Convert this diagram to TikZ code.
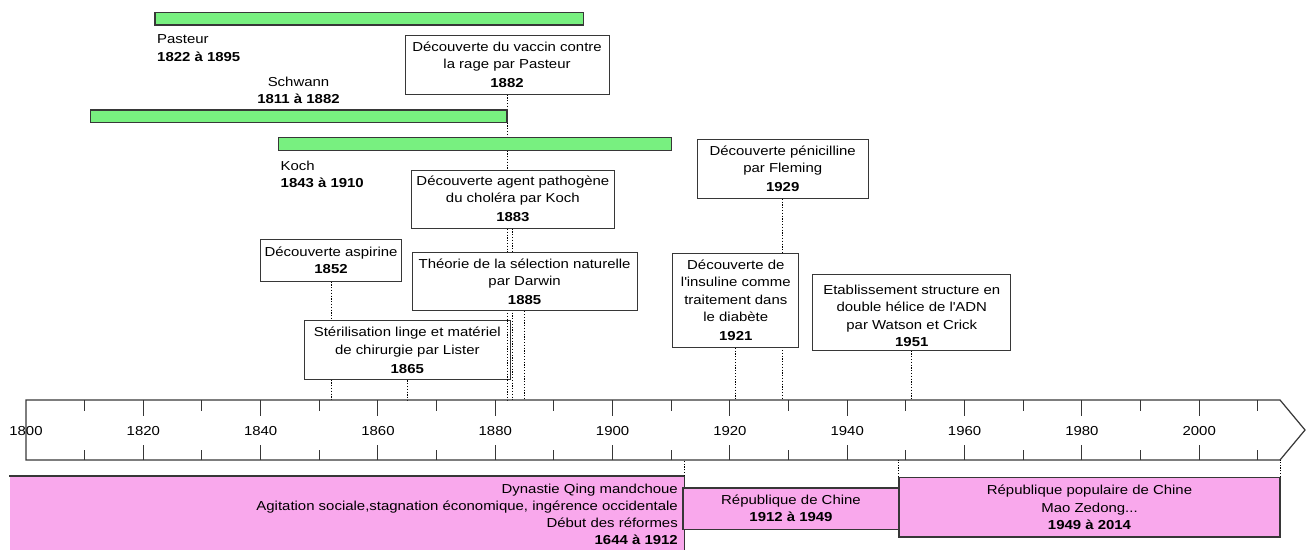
\documentclass[tikz,border=0pt]{standalone}
\usepackage{fontspec}
\setmainfont{Liberation Sans}[FakeStretch=1.15]
\usepackage{xcolor}
\usetikzlibrary{math}
\usetikzlibrary{backgrounds}
\definecolor{vertbarre}{RGB}{120,240,128}
\definecolor{rosebloc}{RGB}{249,168,236}
\definecolor{bordure}{RGB}{55,55,55}
\newcommand{\annee}[1]{(\orig+(#1-1800)*\ech)}
\tikzset{
 barre/.style={draw=bordure, fill=vertbarre, line width=1.3pt},
 evenement/.style={draw=bordure, fill=white, line width=1pt, align=center, inner sep=0pt},
 periode/.style={draw=bordure, fill=rosebloc, line width=1.3pt, align=center, inner sep=0pt},
 pointille/.style={line width=1pt, dash pattern=on 1.2pt off 1.6pt},
 graduation/.style={line width=1pt, draw=bordure}
}

\begin{document}
\begin{tikzpicture}[x={(1pt,0)}, y={(0,-1pt)}, font=\fontsize{13}{17.3}\selectfont]
\tikzmath{
\orig=26;
\ech=5.866;
}
\useasboundingbox (0,0) rectangle (1311,549);
\clip (0,0) rectangle (1311,549);

 \coordinate (axehaut) at (0,400);
 \coordinate (axebas) at (0,460);

 %axe du temps:
 \draw[line width=1.2pt, draw=bordure] (\orig,400) -- (1280,400) -- (1305,430) -- (1280,460) -- (\orig,460) -- cycle;
 \foreach \a in {1810,1830,...,2010}{
  \draw[graduation] ({\annee{\a}},400) -- ++(0,11);
  \draw[graduation] ({\annee{\a}},460) -- ++(0,-10);
 }
 \foreach \a in {1820,1840,...,2000}{
  \draw[graduation] ({\annee{\a}},400) -- ++(0,16);
  \draw[graduation] ({\annee{\a}},460) -- ++(0,-15);
 }
 \foreach \a in {1800,1820,...,2000}
  \node at ({\annee{\a}},431) {\a};

 %barres de vie:
 \draw[barre] ({\annee{1822}},12.5) rectangle ({\annee{1895}},25);
 \node[anchor=north west, align=left, inner sep=0pt] (pasteur) at (157,34.7) {Pasteur\\\textbf{1822 à 1895}};
 \draw[barre] ({\annee{1811}},110) rectangle ({\annee{1882}},122.7);
 \node[anchor=north, align=center, inner sep=0pt] (schwann) at (298.5,76.7) {Schwann\\\textbf{1811 à 1882}};
 \draw[barre] ({\annee{1843}},137.3) rectangle ({\annee{1910}},150.7);
 \node[anchor=north west, align=left, inner sep=0pt] (koch) at (280.5,160.7) {Koch\\\textbf{1843 à 1910}};

 %evenements:
 \node[evenement, minimum width=204, minimum height=59] (vaccin) at ({\annee{1882}},64.5) {Découverte du vaccin contre\\la rage par Pasteur\\[1.5pt]\textbf{1882}};
 \node[evenement, minimum width=203, minimum height=58] (cholera) at ({\annee{1883}},199) {Découverte agent pathogène\\du choléra par Koch\\[1.5pt]\textbf{1883}};
 \node[evenement, minimum width=141, minimum height=42] (aspirine) at ({\annee{1852}},260) {Découverte aspirine\\\textbf{1852}};
 \node[evenement, minimum width=225, minimum height=58] (darwin) at ({\annee{1885}},281.7) {Théorie de la sélection naturelle\\par Darwin\\[1.5pt]\textbf{1885}};
 \node[evenement, minimum width=206, minimum height=59] (lister) at ({\annee{1865}},350.3) {Stérilisation linge et matériel\\de chirurgie par Lister\\[1.5pt]\textbf{1865}};
 \node[evenement, minimum width=171, minimum height=59] (fleming) at ({\annee{1929}},168.7) {Découverte pénicilline\\par Fleming\\[1.5pt]\textbf{1929}};
 \node[evenement, minimum width=126, minimum height=94] (insuline) at ({\annee{1921}},300.3) {Découverte de\\l\textquotesingle insuline comme\\traitement dans\\le diabète\\[1.5pt]\textbf{1921}};
 \node[evenement, minimum width=198, minimum height=76] (watson) at ({\annee{1951}},312) {\rule{0pt}{17pt}Etablissement structure en\\double hélice de l\textquotesingle ADN\\par Watson et Crick\\\textbf{1951}};

 \begin{pgfonlayer}{background}
 \foreach \n in {vaccin,cholera,aspirine,darwin,lister,fleming,insuline,watson}
  \draw[pointille] (\n.south) -- (\n.south |- axehaut);
 \end{pgfonlayer}
 \draw[pointille] (vaccin.south |- lister.north) -- (vaccin.south |- lister.south);

 %periodes:
 \node[periode, draw=none, minimum width=674, minimum height=90, anchor=north west] (qing) at (9,476) {};
 \draw[line width=1.3pt, draw=bordure] (qing.north west) -- (qing.north east) -- (qing.south east);
 \node[anchor=north east, align=right, inner sep=0pt] (qingtexte) at (678,483.4) {Dynastie Qing mandchoue\\Agitation sociale,stagnation économique, ingérence occidentale\\Début des réformes\\\textbf{1644 à 1912}};
 \node[periode, minimum width=216, minimum height=41.3] (rdc) at (791,508.6) {République de Chine\\\textbf{1912 à 1949}};
 \node[periode, minimum width=381, minimum height=59.3] (rpc) at (1089.5,507.3) {République populaire de Chine\\Mao Zedong...\\\textbf{1949 à 2014}};
 \draw[pointille] (qing.north east) -- (qing.north east |- axebas);
 \draw[pointille] (rpc.north west) -- (rpc.north west |- axebas);
 \draw[pointille] (rpc.north east) -- (rpc.north east |- axebas);

\end{tikzpicture}
\end{document}
